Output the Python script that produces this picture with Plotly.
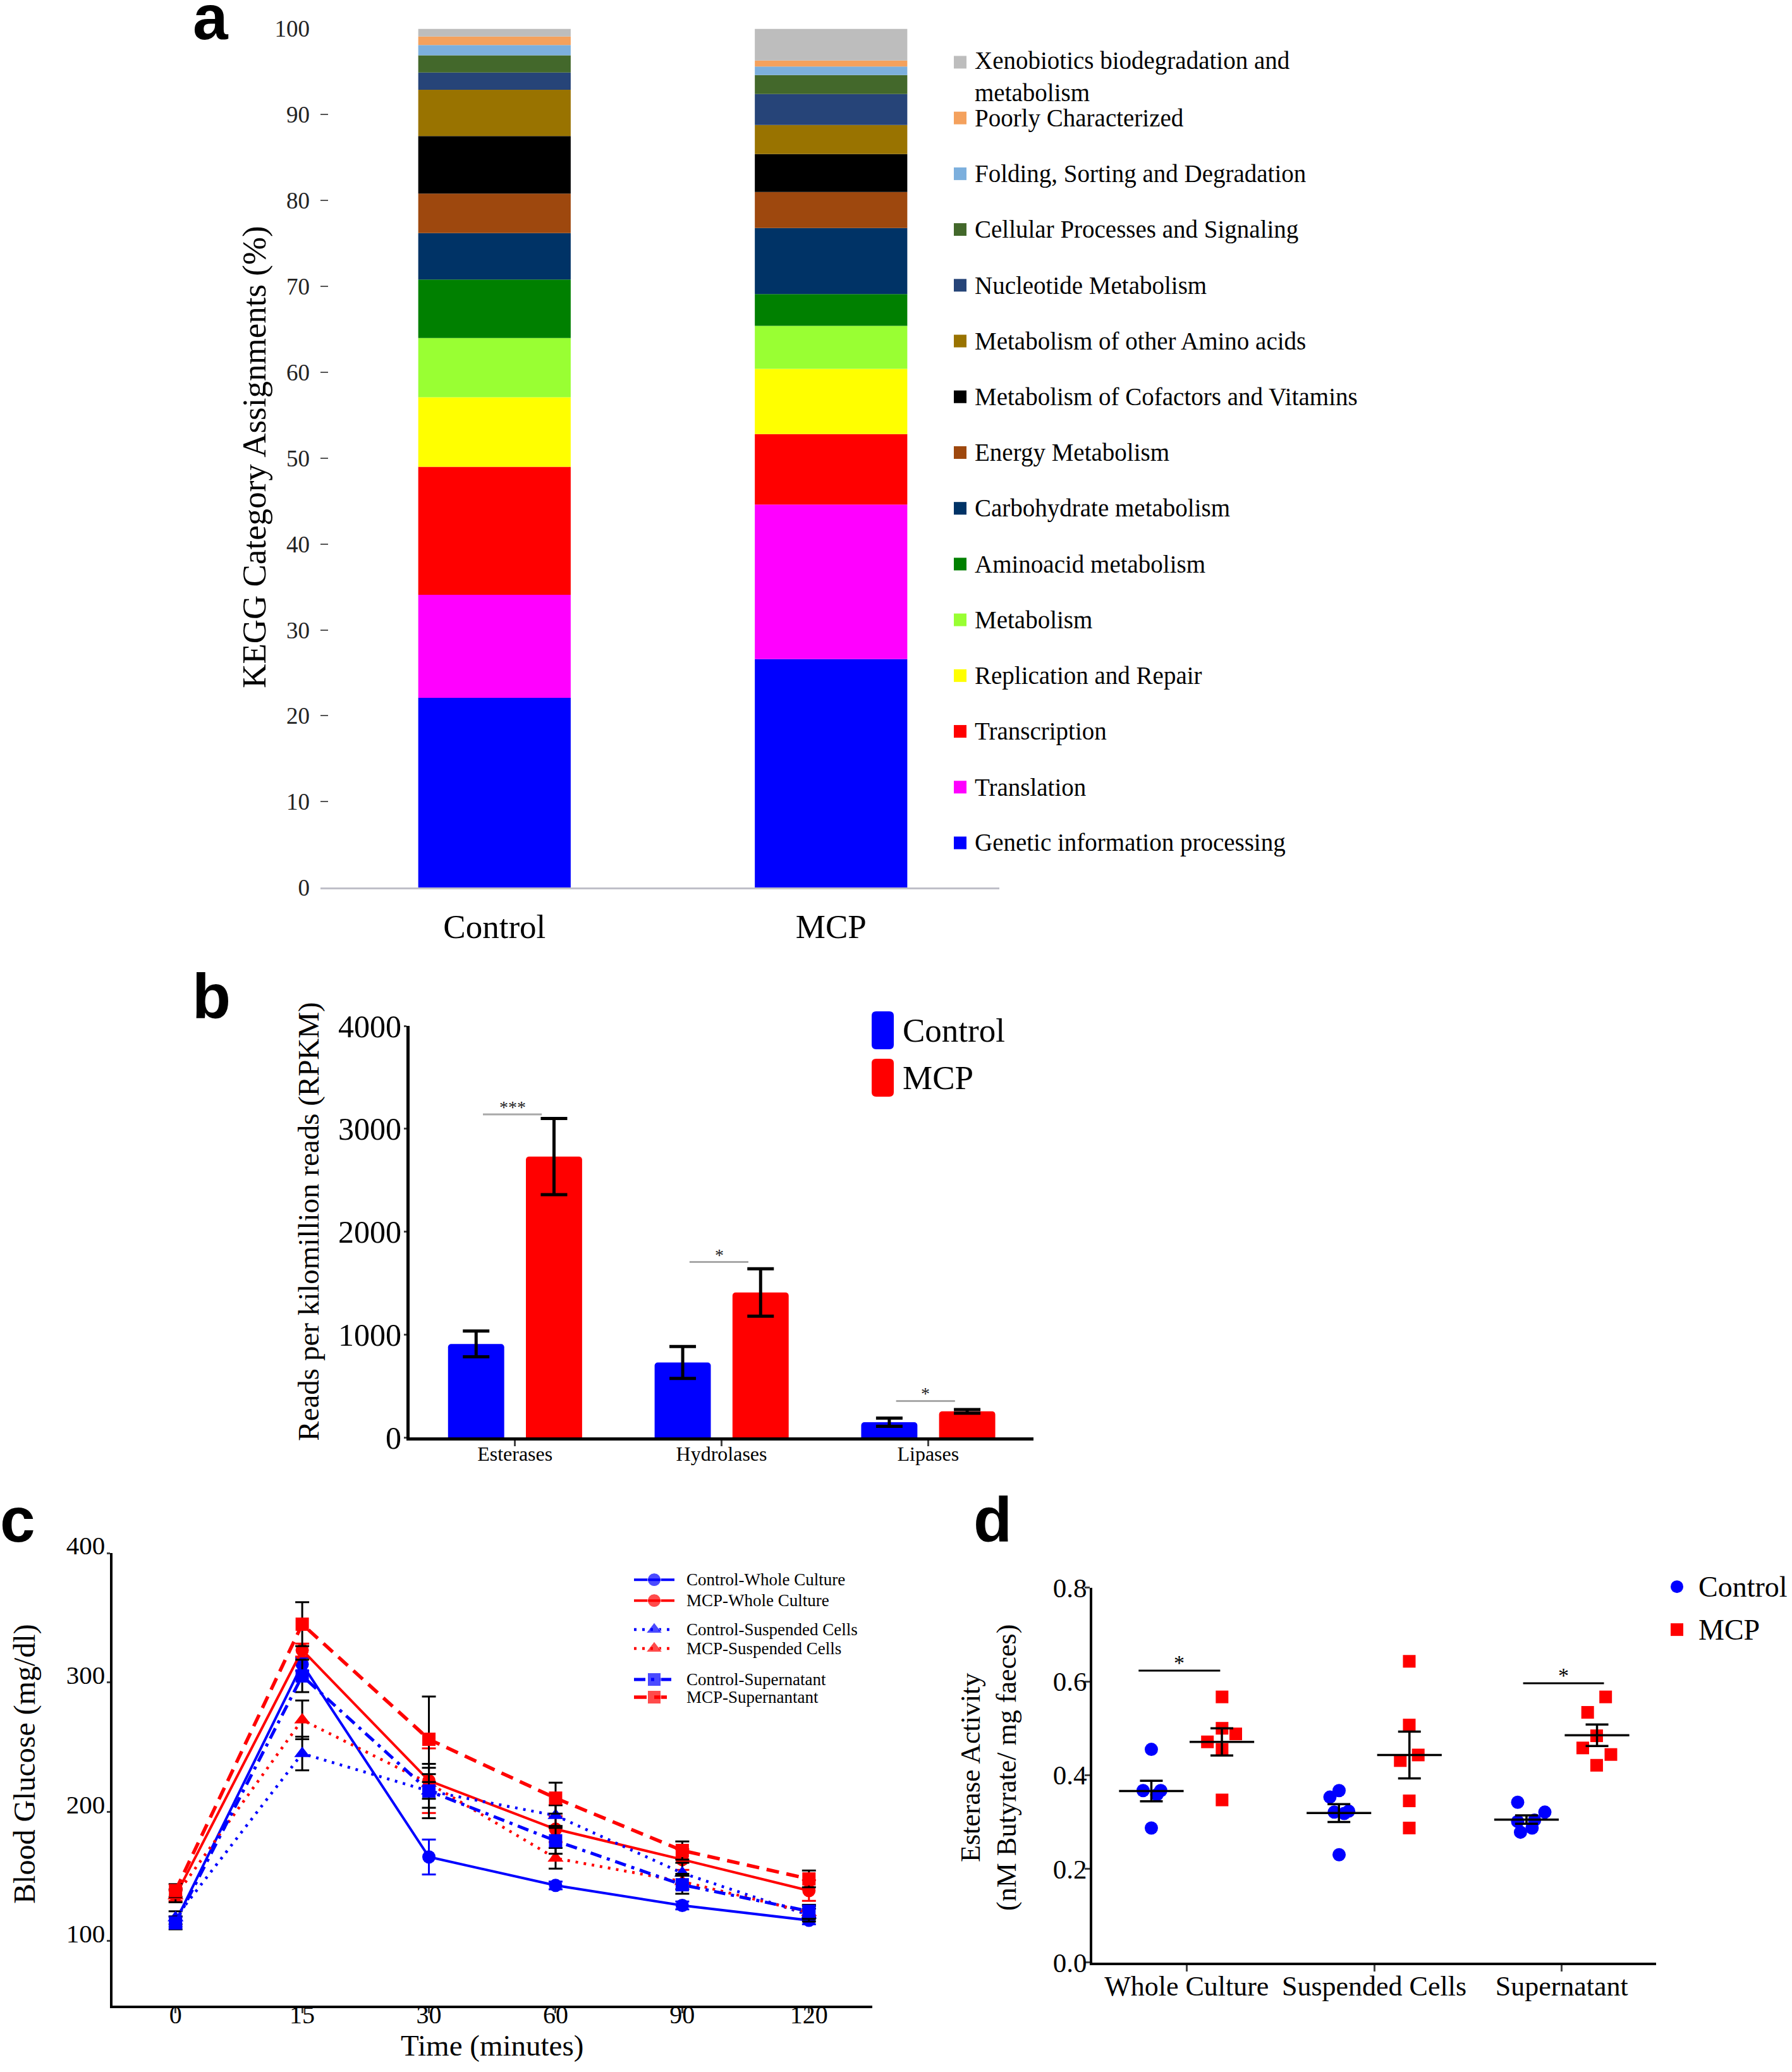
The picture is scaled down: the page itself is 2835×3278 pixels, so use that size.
import numpy as np
import plotly.graph_objects as go

W, H = 2835, 3278
SERIF = "Liberation Serif, Times New Roman, serif"
SANS = "Liberation Sans, Arial, sans-serif"

# ---------------- Panel a data ----------------
kegg_groups = ["Control", "MCP"]
kegg_categories = [
    "Genetic information processing", "Translation", "Transcription",
    "Replication and Repair", "Metabolism", "Aminoacid metabolism",
    "Carbohydrate metabolism", "Energy Metabolism",
    "Metabolism of Cofactors and Vitamins", "Metabolism of other Amino acids",
    "Nucleotide Metabolism", "Cellular Processes and Signaling",
    "Folding, Sorting and Degradation", "Poorly Characterized",
    "Xenobiotics biodegradation and metabolism",
]
kegg_control = [22.1, 12.0, 14.9, 8.1, 6.9, 6.8, 5.4, 4.6, 6.7, 5.4, 2.0, 2.0, 1.2, 1.0, 0.9]
kegg_mcp = [26.6, 18.0, 8.2, 7.6, 5.0, 3.7, 7.7, 4.2, 4.4, 3.4, 3.6, 2.2, 1.0, 0.7, 3.7]
kegg_colors = ["#0000FF", "#FF00FF", "#FF0000", "#FFFF00", "#99FF33", "#008000",
               "#003366", "#9E480E", "#000000", "#997300", "#264478", "#43682B",
               "#7CAFDD", "#F4A15D", "#BDBDBD"]
kegg_ticks = [0, 10, 20, 30, 40, 50, 60, 70, 80, 90, 100]

# ---------------- Panel b data ----------------
enz_categories = ["Esterases", "Hydrolases", "Lipases"]
enz_control = [910, 730, 150]
enz_control_err = [125, 155, 40]
enz_mcp = [2730, 1410, 255]
enz_mcp_err = [370, 230, 18]
enz_sig_labels = ["***", "*", "*"]
enz_sig_y = [3141, 1706, 356]

# ---------------- Panel c data ----------------
time_labels = ["0", "15", "30", "60", "90", "120"]
glc_ctrl_whole = [115, 314, 165, 143, 127.5, 116]
glc_ctrl_whole_err = [4, 5, 13.5, 3, 3, 3]
glc_mcp_whole = [135, 325, 224, 186.5, 163, 139]
glc_mcp_whole_err = [4, 5, 25, 10, 8, 8]
glc_ctrl_susp = [118, 245, 216, 197, 152.5, 120]
glc_ctrl_susp_err = [5, 13, 13, 8, 8, 5]
glc_mcp_susp = [135, 271, 222, 164, 146, 122]
glc_mcp_susp_err = [5, 15, 12, 8, 6, 5]
glc_ctrl_super = [114, 305, 216, 177.5, 143.5, 123]
glc_ctrl_super_err = [5, 12.5, 21, 10, 7, 5]
glc_mcp_super = [139, 345, 256, 210.5, 170, 148]
glc_mcp_super_err = [5, 17, 33, 12, 7, 6.5]

# ---------------- Panel d data ----------------
est_groups = ["Whole Culture", "Suspended Cells", "Supernatant"]
est_ctrl_vals = [[0.455, 0.367, 0.367, 0.358, 0.287],
                 [0.367, 0.353, 0.321, 0.323, 0.318, 0.230],
                 [0.342, 0.321, 0.301, 0.304, 0.287, 0.278]]
est_ctrl_jitter = [[-0.188, -0.232, -0.138, -0.159, -0.188],
                   [-0.187, -0.236, -0.213, -0.136, -0.160, -0.187],
                   [-0.235, -0.090, -0.235, -0.145, -0.158, -0.220]]
est_mcp_vals = [[0.567, 0.500, 0.488, 0.471, 0.455, 0.347],
                [0.643, 0.507, 0.443, 0.431, 0.345, 0.287],
                [0.567, 0.534, 0.484, 0.458, 0.444, 0.421]]
est_mcp_jitter = [[0.189, 0.189, 0.262, 0.111, 0.189, 0.189],
                  [0.187, 0.187, 0.235, 0.139, 0.187, 0.187],
                  [0.234, 0.138, 0.186, 0.112, 0.262, 0.186]]
est_ctrl_mean = [0.366, 0.319, 0.305]
est_ctrl_sem = [0.022, 0.019, 0.009]
est_mcp_mean = [0.471, 0.443, 0.485]
est_mcp_sem = [0.029, 0.050, 0.023]
est_sig = [(-0.256, 0.179, 0.623), (1.794, 2.225, 0.596)]

# page-to-photo vertical correction (measured from a previous render)
SC, OFF = 0.9817, 27.5


def ty(y):
    return (y - OFF) / SC


def px(x):
    return x / W


def py(y):
    return 1 - ty(y) / H


fig = go.Figure()

# ---------- a: stacked bars ----------
base_c = np.concatenate([[0], np.cumsum(kegg_control)[:-1]])
base_m = np.concatenate([[0], np.cumsum(kegg_mcp)[:-1]])
for i, cat in enumerate(kegg_categories):
    fig.add_trace(go.Bar(
        x=kegg_groups, y=[kegg_control[i], kegg_mcp[i]], base=[base_c[i], base_m[i]],
        marker=dict(color=kegg_colors[i], line=dict(width=0)), width=0.453,
        name=cat, xaxis="x", yaxis="y", showlegend=False))

# ---------- b: grouped bars ----------
fig.add_trace(go.Bar(
    x=enz_categories, y=enz_control, width=0.272, offset=-0.324,
    marker=dict(color="#0000FF", line=dict(width=0), cornerradius=5),
    error_y=dict(type="data", array=enz_control_err, color="black", thickness=5, width=21),
    name="Control", xaxis="x2", yaxis="y2", showlegend=False))
fig.add_trace(go.Bar(
    x=enz_categories, y=enz_mcp, width=0.272, offset=0.053,
    marker=dict(color="#FF0000", line=dict(width=0), cornerradius=5),
    error_y=dict(type="data", array=enz_mcp_err, color="black", thickness=5, width=21),
    name="MCP", xaxis="x2", yaxis="y2", showlegend=False))

# ---------- c: glucose lines ----------
c_series = [
    ("Control-Whole Culture", glc_ctrl_whole, glc_ctrl_whole_err, "#0000FF", "solid", "circle", "#0000FF"),
    ("MCP-Whole Culture", glc_mcp_whole, glc_mcp_whole_err, "#FF0000", "solid", "circle", "#FF0000"),
    ("Control-Suspended Cells", glc_ctrl_susp, glc_ctrl_susp_err, "#0000FF", "4px,9px", "triangle-up", "black"),
    ("MCP-Suspended Cells", glc_mcp_susp, glc_mcp_susp_err, "#FF0000", "4px,9px", "triangle-up", "black"),
    ("Control-Supernatant", glc_ctrl_super, glc_ctrl_super_err, "#0000FF", "18px,9px,5px,9px", "square", "black"),
    ("MCP-Supernantant", glc_mcp_super, glc_mcp_super_err, "#FF0000", "20px,12px", "square", "black"),
]
c_widths = [4, 4, 4.5, 4.5, 5, 5.5]
c_sizes = {"circle": 21, "triangle-up": 22, "square": 21}
for (name, vals, errs, col, dash, sym, ecol), lw in zip(c_series, c_widths):
    fig.add_trace(go.Scatter(
        x=time_labels, y=vals, mode="lines+markers", name=name,
        line=dict(color=col, width=lw, dash=dash),
        marker=dict(symbol=sym, size=c_sizes[sym], color=col),
        error_y=dict(type="data", array=errs, color=ecol, thickness=3, width=11),
        xaxis="x3", yaxis="y3", showlegend=False))

# ---------- d: dot plot ----------
for g in range(len(est_groups)):
    fig.add_trace(go.Scatter(
        x=[g + j for j in est_ctrl_jitter[g]], y=est_ctrl_vals[g], mode="markers",
        marker=dict(symbol="circle", size=21, color="#0000FF"),
        name="Control", xaxis="x4", yaxis="y4", showlegend=False))
    fig.add_trace(go.Scatter(
        x=[g + j for j in est_mcp_jitter[g]], y=est_mcp_vals[g], mode="markers",
        marker=dict(symbol="square", size=20, color="#FF0000"),
        name="MCP", xaxis="x4", yaxis="y4", showlegend=False))
for means, sems, off in [(est_ctrl_mean, est_ctrl_sem, -0.188), (est_mcp_mean, est_mcp_sem, 0.188)]:
    fig.add_trace(go.Scatter(
        x=[g + off for g in range(len(est_groups))], y=means, mode="markers",
        marker=dict(symbol="line-ew", size=73, color="black", line=dict(width=3.5, color="black")),
        error_y=dict(type="data", array=sems, color="black", thickness=3.5, width=18),
        xaxis="x4", yaxis="y4", showlegend=False))

shapes = []
annotations = []

# significance bars b
for i, (lab, yv) in enumerate(zip(enz_sig_labels, enz_sig_y)):
    shapes.append(dict(type="line", xref="x2", yref="y2", x0=i - 0.155, x1=i + 0.13, y0=yv, y1=yv,
                       line=dict(color="#A8A8A8", width=3)))
    annotations.append(dict(xref="x2", yref="y2", x=i - 0.012, y=yv, text=lab, showarrow=False,
                            yanchor="bottom", yshift=-6, font=dict(family=SERIF, size=28, color="#222")))
# significance bars d
for x0, x1, yv in est_sig:
    shapes.append(dict(type="line", xref="x4", yref="y4", x0=x0, x1=x1, y0=yv, y1=yv,
                       line=dict(color="black", width=3)))
    annotations.append(dict(xref="x4", yref="y4", x=(x0 + x1) / 2, y=yv, text="*", showarrow=False,
                            yanchor="bottom", yshift=-8, font=dict(family=SERIF, size=34, color="black")))

# ---------- manual legends (overlay axis in pixel units) ----------
# a legend
a_leg_top, a_leg_step, a_leg_x = 91, 88.3, 1519
a_rows = list(range(len(kegg_categories)))[::-1]  # top row = last category
a_leg_y = [a_leg_top + k * a_leg_step for k in range(len(a_rows))]
fig.add_trace(go.Scatter(
    x=[a_leg_x] * len(a_rows), y=[ty(v) for v in a_leg_y], mode="markers",
    marker=dict(symbol="square", size=20, color=[kegg_colors[i] for i in a_rows]),
    xaxis="x5", yaxis="y5", showlegend=False, hoverinfo="skip"))
for k, i in enumerate(a_rows):
    label = kegg_categories[i]
    if label.startswith("Xenobiotics"):
        label = "Xenobiotics biodegradation and<br>metabolism"
        annotations.append(dict(xref="paper", yref="paper", x=px(1540), y=py(a_leg_y[k] - 26),
                                text=label, showarrow=False, xanchor="left", yanchor="top", align="left",
                                font=dict(family=SERIF, size=39, color="black")))
    else:
        annotations.append(dict(xref="paper", yref="paper", x=px(1540), y=py(a_leg_y[k]),
                                text=label, showarrow=False, xanchor="left", yanchor="middle",
                                font=dict(family=SERIF, size=39, color="black")))

# b legend
b_leg = [("Control", "#0000FF", 1624), ("MCP", "#FF0000", 1699)]
for lab, col, yc in b_leg:
    x0, x1, y0, y1, r = 1379, 1414, ty(yc - 30), ty(yc + 30), 7
    path = (f"M{x0 + r},{y0} L{x1 - r},{y0} Q{x1},{y0} {x1},{y0 + r} L{x1},{y1 - r} "
            f"Q{x1},{y1} {x1 - r},{y1} L{x0 + r},{y1} Q{x0},{y1} {x0},{y1 - r} "
            f"L{x0},{y0 + r} Q{x0},{y0} {x0 + r},{y0} Z")
    shapes.append(dict(type="path", xref="x5", yref="y5", path=path, fillcolor=col, line=dict(width=0)))
    annotations.append(dict(xref="paper", yref="paper", x=px(1426), y=py(yc), text=lab, showarrow=False,
                            xanchor="left", yanchor="middle", font=dict(family=SERIF, size=53, color="black")))

# c legend
c_leg_y = [2494, 2527, 2573, 2603, 2652, 2680]
for (name, vals, errs, col, dash, sym, ecol), lw, yc in zip(c_series, c_widths, c_leg_y):
    fig.add_trace(go.Scatter(
        x=[1003, 1035, 1067], y=[ty(yc)] * 3, mode="lines+markers",
        line=dict(color=col, width=lw, dash=dash),
        marker=dict(symbol=sym, size=[0, c_sizes[sym], 0], color=col),
        xaxis="x5", yaxis="y5", showlegend=False, hoverinfo="skip"))
    annotations.append(dict(xref="paper", yref="paper", x=px(1084), y=py(yc), text=name, showarrow=False,
                            xanchor="left", yanchor="middle", font=dict(family=SERIF, size=27, color="black")))

# d legend
d_leg = [("Control", "#0000FF", "circle", 2505), ("MCP", "#FF0000", "square", 2573)]
for lab, col, sym, yc in d_leg:
    fig.add_trace(go.Scatter(x=[2653], y=[ty(yc)], mode="markers",
                             marker=dict(symbol=sym, size=20, color=col),
                             xaxis="x5", yaxis="y5", showlegend=False, hoverinfo="skip"))
    annotations.append(dict(xref="paper", yref="paper", x=px(2685), y=py(yc), text=lab, showarrow=False,
                            xanchor="left", yanchor="middle", font=dict(family=SERIF, size=46, color="black")))

# ---------- axis titles ----------
titles = [
    ("KEGG Category Assignments (%)", 403, 716, 53, -90),
    ("Reads per kilomillion reads (RPKM)", 488, 1927, 47, -90),
    ("Blood Glucose (mg/dl)", 39, 2786, 48, -90),
    ("Time (minutes)", 778, 3231, 47, 0),
    ("Esterase Activity<br>(nM Butyrate/ mg faeces)", 1564, 2792, 44, -90),
]
for txt, x, y, s, ang in titles:
    annotations.append(dict(xref="paper", yref="paper", x=px(x), y=py(y), text=txt, showarrow=False,
                            xanchor="center", yanchor="middle", textangle=ang,
                            font=dict(family=SERIF, size=s, color="black")))

# panel letters
for lab, x, ybase in [("a", 303, 57), ("b", 302, 1607), ("c", -2, 2436), ("d", 1538, 2436)]:
    annotations.append(dict(xref="paper", yref="paper", x=px(x), y=1 - (ty(ybase) + 21) / H,
                            text=f"<b>{lab}</b>", showarrow=False, xanchor="left", yanchor="bottom",
                            font=dict(family=SANS, size=100, color="black")))

noline = dict(showgrid=False, zeroline=False)
fig.update_layout(
    width=W, height=H, margin=dict(l=0, r=0, t=0, b=0),
    paper_bgcolor="white", plot_bgcolor="rgba(0,0,0,0)", barmode="overlay", showlegend=False,
    font=dict(family=SERIF, color="black"),
    # a
    xaxis=dict(domain=[px(507), px(1581)], anchor="y", type="category", range=[-0.517, 1.5],
               showline=True, linecolor="#BFBFC8", linewidth=3, ticks="",
               tickfont=dict(family=SERIF, size=53, color="black"), ticklabelstandoff=13, **noline),
    yaxis=dict(domain=[py(1398), py(38)], anchor="x", range=[0, 100], tickvals=kegg_ticks,
               showline=False, ticks="inside", ticklen=12, tickwidth=2, tickcolor="#555",
               tickfont=dict(family=SERIF, size=37, color="#222"), ticklabelstandoff=16, **noline),
    # b
    xaxis2=dict(domain=[px(648), px(1635)], anchor="y2", type="category", range=[-0.51, 2.51],
                showline=True, linecolor="black", linewidth=5, ticks="outside", ticklen=9, tickwidth=3,
                ticklabelstandoff=-16,
                tickfont=dict(family=SERIF, size=32, color="black"), **noline),
    yaxis2=dict(domain=[py(2269), py(1617)], anchor="x2", range=[0, 4000], dtick=1000,
                showline=True, linecolor="black", linewidth=5, ticks="outside", ticklen=4, tickwidth=3,
                ticklabelstandoff=-6,
                tickfont=dict(family=SERIF, size=50, color="black"), **noline),
    # c
    xaxis3=dict(domain=[px(177.5), px(1380)], anchor="y3", type="category", range=[-0.5, 5.5],
                showline=True, linecolor="black", linewidth=4, ticks="outside", ticklen=8, tickwidth=3,
                ticklabelstandoff=-32,
                tickfont=dict(family=SERIF, size=40, color="black"), **noline),
    yaxis3=dict(domain=[py(3168.5), py(2451.8)], anchor="x3", range=[50, 400], tickvals=[100, 200, 300, 400],
                showline=True, linecolor="black", linewidth=4, ticks="outside", ticklen=5, tickwidth=3,
                ticklabelshift=-12, ticklabelstandoff=-6,
                tickfont=dict(family=SERIF, size=41, color="black"), **noline),
    # d
    xaxis4=dict(domain=[px(1728), px(2620)], anchor="y4", range=[-0.503, 2.503], tickvals=[0, 1, 2],
                ticktext=est_groups, showline=True, linecolor="black", linewidth=4, ticks="outside",
                ticklen=10, tickwidth=3, ticklabelstandoff=-14,
                tickfont=dict(family=SERIF, size=44, color="black"), **noline),
    yaxis4=dict(domain=[py(3100), py(2506.8)], anchor="x4", range=[0, 0.8], dtick=0.2, tickformat=".1f",
                showline=True, linecolor="black", linewidth=4, ticks="outside", ticklen=8, tickwidth=3,
                ticklabelstandoff=-12,
                tickfont=dict(family=SERIF, size=43, color="black"), **noline),
    # overlay in pixel units for legend symbols
    xaxis5=dict(domain=[0, 1], anchor="y5", range=[0, W], visible=False, fixedrange=True, **noline),
    yaxis5=dict(domain=[0, 1], anchor="x5", range=[H, 0], visible=False, fixedrange=True, **noline),
    shapes=shapes, annotations=annotations,
)

fig.write_html("out.html", config={"displayModeBar": False},
               post_script="document.body.style.margin='0px';")
